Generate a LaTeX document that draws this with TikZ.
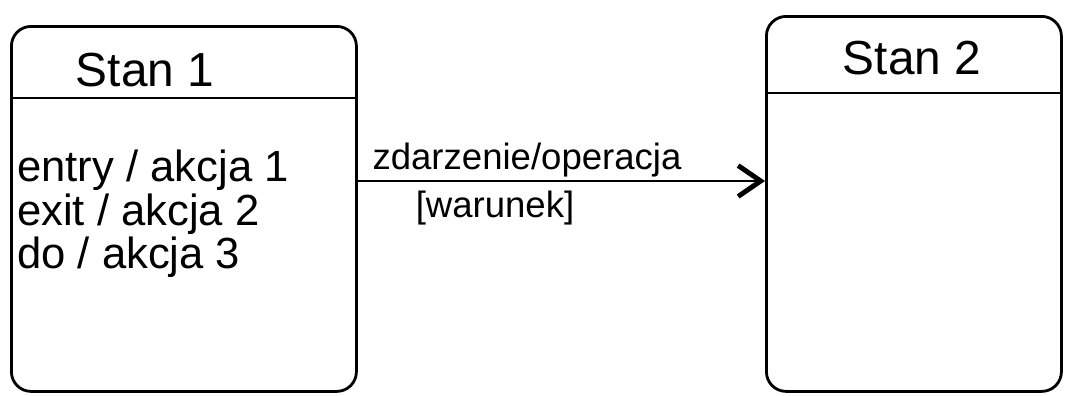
\documentclass[tikz,border=0pt]{standalone}
\usepackage{fontspec}
\setmainfont{Liberation Sans}
\usetikzlibrary{arrows.meta, positioning, calc}

\tikzset{
  statebox/.style={draw, line width=2pt, rounded corners=14pt, anchor=north west, inner sep=0pt},
  divider/.style={line width=1.4pt},
  hand/.style={font=\fontsize{34}{40}\selectfont, inner sep=0pt},
  trans/.style={line width=1.8pt, -{Straight Barb[length=16pt, width=22pt, line width=3.5pt]}}
}

\begin{document}
\begin{tikzpicture}[x=0.025cm, y=-0.025cm]
    \useasboundingbox (0,0) rectangle (1072,395);
    % states
    \node[statebox, minimum width=345*0.025cm, minimum height=365*0.025cm] (s1) at (10,25) {};
    \node[statebox, minimum width=295*0.025cm, minimum height=375*0.025cm] (s2) at (765,15) {};
    \draw[divider] (s1.west |- 0,98) -- (s1.east |- 0,98);
    \draw[divider] (s2.west |- 0,93) -- (s2.east |- 0,93);
    % names
    \node[hand] (n1) at (145,70) {Stan 1};
    \node[hand] (n2) at (912,58) {Stan 2};
    % internal actions
    \node[hand, anchor=west, align=left, font=\fontsize{31}{31}\selectfont] (acts) at (17,214)
      {entry / akcja 1\\exit / akcja 2\\do / akcja 3};
    % transition
    \coordinate (arr) at (0,181);
    \draw[trans] (s1.east |- arr) -- (s2.west |- arr);
    \node[hand, font=\fontsize{26}{30}\selectfont] (ev) at (527,160) {zdarzenie/operacja};
    \node[hand, font=\fontsize{26}{30}\selectfont] (gd) at (495,208) {[warunek]};
  \end{tikzpicture}
\end{document}
